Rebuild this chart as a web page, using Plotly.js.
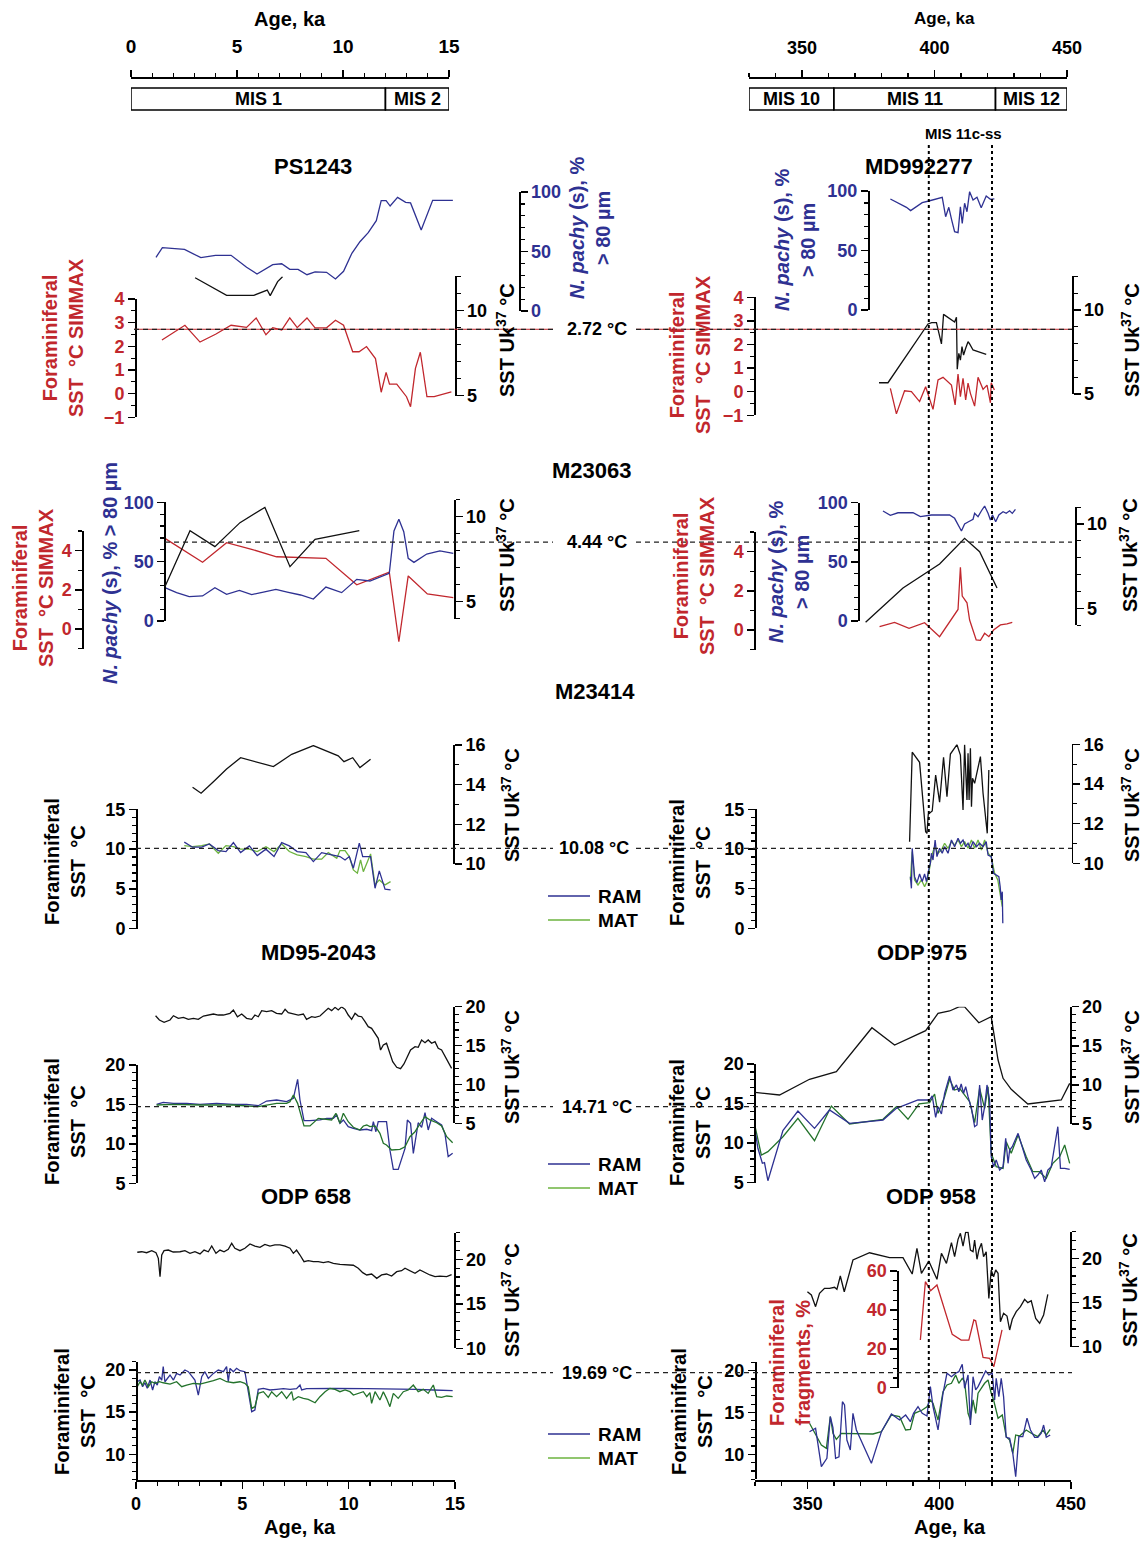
<!DOCTYPE html>
<html><head><meta charset="utf-8">
<script src="https://cdn.plot.ly/plotly-3.0.1.min.js"></script>
<style>html,body{margin:0;padding:0;background:#fff}#chart{width:1148px;height:1542px}</style>
</head><body><div id="chart"></div>
<script>
// ---------------- DATA ----------------
// PS1243 (0-15 ka)
const ps1243PachyAge = [0.94,1.24,2.28,3.05,3.74,4.47,5.2,5.69,6.43,6.85,7.23,7.62,8.04,8.42,8.96,9.38,9.76,10.15,10.53,10.92,11.3,11.53,11.76,11.95,12.3,12.68,12.91,13.41,13.95,14.9];
const ps1243Pachy = [45.1,53.2,51.8,44.8,46.8,46.8,36.7,31.1,38.9,39.7,35,35,30.5,32.8,32.5,26.9,33.4,48.5,58.2,65.8,75.9,92.7,92.7,88.2,95.5,91.3,90.8,68.1,93,93];
const ps1243UkAge = [2.78,4.26,5.54,6.17,6.31,6.66,6.89];
const ps1243Uk = [11.91,10.88,10.88,11.19,10.86,11.68,11.97];
const ps1243SimAge = [1.22,2.3,3.01,3.74,4.47,5.2,5.65,6.11,6.43,6.85,7.23,7.58,8.04,8.42,8.96,9.38,9.76,10.19,10.49,10.84,11.26,11.53,11.76,11.92,12.26,12.72,12.91,13.14,13.37,13.68,14.02,14.83];
const ps1243Sim = [2.27,2.89,2.18,2.51,2.89,2.8,3.2,2.49,2.79,2.69,3.2,2.79,3.2,2.78,2.78,3.1,2.89,1.77,1.77,1.99,1.48,0.06,0.9,0.4,0.4,-0.13,-0.55,1.07,1.75,-0.13,-0.13,0.07];
// MD992277 (MIS 11)
const md2277PachyAge = [381.4,387.5,389.1,393.5,396,398.9,401.1,402.4,403.6,404.7,405.8,407.1,408,408.7,409.6,410.5,411.5,412.8,414.3,415.9,417.8,419.4,420.9];
const md2277Pachy = [93.3,86.3,83.5,90.2,91.6,93.3,94.7,78.4,86.3,75.6,65.8,65,86.8,72.8,89.7,82.6,99.4,92.4,94.7,86,95.8,93,93.3];
const md2277UkAge = [377.1,380.5,395.7,397.1,398.9,400.8,401.6,404.6,405.8,406.5,406.8,407.4,408,408.6,409.2,410,410.9,411.5,412.8,414.7,417.8];
const md2277Uk = [5.67,5.67,9.17,9.25,9.25,7.98,9.74,9.45,9.29,9.57,6.47,7.42,7.02,7.82,7.32,7.72,8.11,7.98,7.62,7.52,7.36];
const md2277SimAge = [381.4,383.7,386.8,389.4,392.5,394.8,397.6,399.5,401.4,404.6,406,407.1,408,409,410,410.9,411.8,413.4,414.7,416.6,418.1,419.4,419.7,420.9];
const md2277Sim = [0.14,-0.94,0.04,0,-0.42,0.21,-0.75,0.5,0.61,0.28,-0.56,0.75,-0.21,0.57,-0.35,0.36,-0.07,-0.61,0.61,0.1,0.28,-0.47,0.38,0.07];
// M23063 Holocene
const m23063PachyAgeA = [1.36,1.91,2.5,3.13,3.71,4.26,4.86,5.44,5.99,6.58,7.11,7.74,8.34,8.93,9.67,10.38,11,11.91,12.13,12.36,12.59,12.8,13.07,13.67,14.29,14.92];
const m23063PachyA = [28.1,23.9,20.5,21.1,28.1,22.5,25.8,22.2,24.4,26.7,24.4,21.9,18.5,28.6,23.9,35.1,33.7,40.2,75.8,85.7,75.2,52.8,49.4,56.4,59,57];
const m23063UkAgeA = [1.36,2.54,3.71,4.89,6.06,7.24,8.42,10.5];
const m23063UkA = [5.88,9.18,8.24,9.65,10.55,7.06,8.67,9.18];
const m23063SimAgeA = [1.36,3.13,4.26,5.44,6.61,7.71,8.93,10.38,11.91,12.36,12.8,13.7,14.92];
const m23063SimA = [4.63,3.41,4.41,4.07,3.69,3.64,3.61,2.26,2.9,-0.65,2.71,1.79,1.6];
// M23063 MIS 11
const m23063PachyAgeB = [378.6,381.4,384.3,390,392.8,397,403.9,405.8,408.4,409.6,410.9,412.8,413.4,414.7,416,417.2,418.5,419.4,420.2,421.4,422.6,424.2,425.4,426.7,427.7,428.9];
const m23063PachyB = [93,89.3,91.5,91.5,88.2,89.6,89.6,86.8,76.1,82,83.7,86,91,88.2,93.2,97.2,91,85.4,89.6,83.9,89.6,92.4,91,93.2,91,94.4];
const m23063UkAgeB = [372,386.2,400.1,409.6,415.3,421.9];
const m23063UkB = [4.18,6.2,7.63,9.15,8.36,6.2];
const m23063SimAgeB = [377.3,383,388.5,394.4,400.1,407.1,408,408.7,410.5,411.5,414,415.6,417.2,418.8,420.6,423.2,425.7,427.7];
const m23063SimB = [0.17,0.39,0.09,0.37,-0.34,1.05,3.2,1.73,1.39,0.51,-0.51,-0.53,-0.17,-0.34,0,0.26,0.31,0.39];
// M23414 Holocene
const m23414UkAgeA = [2.66,3.06,3.64,4.26,4.92,5.83,6.46,7.32,8.34,9.51,9.78,10.19,10.53,11.03];
const m23414UkA = [13.87,13.57,14.15,14.79,15.36,15.08,14.91,15.53,15.97,15.45,15.16,15.36,14.86,15.28];
const m23414RamAgeA = [2.27,2.66,3.09,3.45,3.87,4.23,4.58,4.92,5.33,5.7,6.11,6.49,6.85,7.21,7.58,7.99,8.34,8.73,9.04,9.44,9.59,9.83,10.03,10.22,10.5,10.66,10.85,11.03,11.24,11.44,11.71,11.97];
const m23414RamA = [10.87,10.24,10.24,10.65,9.81,9.69,10.82,9.56,10.4,9.18,9.99,9.06,10.82,10.4,9.69,9.56,8.43,9.56,9.36,9.18,9.06,8.64,9.06,7.6,10.74,9.06,9.06,9.06,5.08,7.26,4.96,4.87];
const m23414MatAgeA = [2.27,2.66,3.09,3.45,3.87,4.23,4.58,4.92,5.33,5.7,6.11,6.49,6.85,7.21,7.58,7.99,8.34,8.73,9.04,9.44,9.59,9.83,10.03,10.22,10.41,10.56,10.69,11.03,11.24,11.44,11.71,11.97];
const m23414MatA = [10.44,10.31,10.44,10.65,9.48,10.44,10.31,9.99,9.99,9.69,10.31,9.69,10.65,9.69,9.27,9.06,8.73,8.73,9.56,8.86,9.81,9.81,9.06,7.38,6.97,8.64,7.17,9.4,5.5,6.13,5.5,5.91];
// M23414 MIS 11
const m23414UkAgeB = [388.7,389.7,392.5,394.8,395.3,395.8,397.3,398.6,400.1,401.6,402.9,404.2,406.7,408,409,409.6,410.5,410.9,411.3,411.8,412.2,412.6,413.4,415.6,416.6,418.2,418.8];
const m23414UkB = [11.09,15.6,15.09,11.59,11.51,12.47,12.64,14.45,13.08,15.35,13.36,15.51,15.98,15.46,12.69,15.97,13.19,15.55,13.19,15.8,12.85,14.29,14.03,15.38,13.53,11.51,14.7];
const m23414RamAgeB = [389,389.4,389.7,390.6,391.5,392.5,393.5,394.4,395.1,395.6,396.1,396.6,397,397.6,398.4,399.1,400.1,401.1,402,403.3,404.6,405.8,407.1,408,409,410,410.9,411.8,412.8,414.1,415.3,416.6,417.8,418.5,419.7,420.6,421.6,422.6,423.1,423.5,423.9,424.1];
const m23414RamB = [6.51,5.04,10.09,6.51,5.75,6.85,5.88,6.85,5.88,6.93,7.57,8.2,9.46,8.61,11.13,9.03,10.09,9.46,10.29,9.46,11.13,10.29,11.35,10.72,11.13,10.29,10.72,10.09,10.92,10.29,10.72,10.29,10.92,9.24,9.03,6.93,6.72,6.51,5.25,3.57,4.62,0.63];
const m23414MatAgeB = [389,389.7,390.6,391.9,393.2,394.4,395.3,396.1,397,398.2,399.5,400.8,402,403.3,404.6,405.8,407.1,408.4,409.6,410.9,412.2,413.4,414.7,416,417.2,418.5,419.7,421,422.2,423.1,423.9];
const m23414MatB = [6.09,9.66,6.09,5.46,6.09,5.25,5.88,7.14,9.03,10.29,9.46,9.87,10.72,10.09,10.92,10.5,11.13,10.29,10.92,10.09,11.13,10.09,11.13,9.87,11.13,9.46,9.03,6.93,6.09,4.41,2.72];
// MD95-2043
const md2043UkAge = [0.92,1.1,1.32,1.6,1.76,1.99,2.23,2.46,2.7,2.93,3.17,3.4,3.64,3.87,4.11,4.42,4.58,4.77,4.97,5.2,5.44,5.59,5.75,5.91,6.14,6.38,6.61,6.85,7.01,7.16,7.4,7.63,7.87,8.02,8.26,8.42,8.65,8.89,9.04,9.2,9.36,9.51,9.67,9.83,9.98,10.14,10.3,10.45,10.61,10.77,10.92,11.08,11.24,11.39,11.5,11.63,11.78,11.94,12.07,12.26,12.44,12.6,12.76,12.91,13.12,13.27,13.43,13.59,13.74,13.9,14.06,14.21,14.37,14.61,14.84];
const md2043Uk = [18.84,18.29,17.99,18.29,18.84,18.5,18.63,18.37,18.5,18.37,18.8,18.93,19.06,18.93,18.93,19.15,19.58,18.71,19.06,18.5,18.37,18.93,18.71,19.49,19.36,19.49,19.15,19.06,19.66,19.23,19.06,18.93,19.06,18.37,18.71,18.63,18.8,19.36,19.79,19.49,19.92,19.58,19.98,19.66,18.93,18.37,19.15,18.8,18.71,18.07,17.43,17.22,16.58,15.93,14.43,15.07,15.29,14,12.93,12.2,12.02,12.63,13.57,14.43,14.85,14.77,15.72,15.37,15.72,15.29,15.5,14.65,14.43,13.14,12.07];
const md2043RamAge = [0.97,1.28,1.76,2.38,3.01,3.79,4.58,5.2,5.75,6.14,6.61,7.08,7.4,7.6,7.71,7.9,8.18,8.65,8.97,9.28,9.44,9.59,9.75,9.98,10.22,10.53,10.85,11.08,11.16,11.28,11.39,11.78,11.94,12.1,12.33,12.49,12.65,12.76,12.91,13.04,13.27,13.43,13.59,13.74,13.9,14.14,14.37,14.53,14.68,14.89];
const md2043Ram = [15.02,15.27,15.14,15.14,15.02,15.14,15.02,15.02,14.84,15.43,15.56,15.35,15.77,18.18,15.56,12.94,12.94,13.03,13.24,13.24,13.66,12.6,13.03,12.18,11.97,11.76,11.85,11.67,12.81,11.54,12.81,12.81,9.22,6.77,6.77,8.17,9.43,13.03,12.6,8.8,12.68,12.1,13.95,11.76,13.24,12.81,12.39,11.25,8.38,8.8];
const md2043MatAge = [0.97,1.76,3.01,4.58,5.75,6.14,6.61,7.08,7.24,7.4,7.6,7.9,8.18,8.57,8.89,9.2,9.4,9.59,9.75,9.98,10.22,10.53,10.69,10.85,11,11.24,11.47,11.63,11.78,12.02,12.41,12.65,12.88,13.12,13.35,13.59,13.82,14.14,14.37,14.61,14.89];
const md2043Mat = [14.93,15.02,14.93,14.93,14.71,14.93,15.14,15.14,15.35,16.2,15.14,12.27,12.27,13.24,13.11,13.03,13.88,12.6,13.88,12.81,12.1,11.76,12.27,12.39,12.18,12.27,11.34,10.07,9.86,9.22,9.31,9.64,10.91,11.54,12.52,13.45,13.03,12.68,12.27,10.91,10.15];
// ODP 975
const odp975UkAge = [330,339.3,350.7,360.9,374.4,383,394.8,399.5,403.9,407.4,409.6,415,419.7,422.3,424.2,427.3,433.6,446.3,449.5];
const odp975Uk = [9.05,8.71,10.72,11.69,17.31,15.1,16.93,19.15,19.45,19.98,19.98,17.95,18.72,13.18,10.84,9.44,7.56,8.07,10.2];
const odp975RamAge = [330,331.1,332.8,333.6,334.9,340.6,346.3,352.6,358.3,365.9,378.6,383.7,391.9,396.3,397.3,398.6,399.5,400.8,402,403.9,405.2,406.5,407.4,408.3,409.2,410,410.9,412.2,413.4,414.3,415.3,416.3,417.2,418.1,419.1,419.7,420.6,421.6,422.9,424.2,425.2,426.1,426.7,427.7,429.9,431.1,433,434.9,436.2,437.4,438.7,440,441.2,442.5,443.8,445,446,447.6,449.5];
const odp975Ram = [11.75,9.35,7.45,7.53,5.25,11.58,14.06,11.87,14.19,12.5,12.92,14.4,15.45,15.45,15.96,13.26,14.61,13.68,16.3,18.48,16.71,17.35,16.5,17.47,16.3,17.13,15.87,14.4,12.08,12.29,17.35,12.92,14.61,17.35,15.45,8.29,7.02,7.87,6.6,7.02,10.61,7.45,9.13,9.55,11.24,9.97,7.87,6.6,5.55,5.97,6.6,5.1,6.6,7.02,9.55,12.08,6.81,6.81,6.68];
const odp975MatAge = [330,332.4,334.9,340.6,346.3,352.6,359,365.9,378.6,383.7,388.1,392.3,396.3,398.2,399.5,402,403.9,405.8,407.7,409.6,411.5,413.4,415.3,417.2,418.5,419.7,421.6,424.2,425.4,427.3,429.9,433,435.5,438,440.6,443.1,445.7,447.6,449.5];
const odp975Mat = [12.16,8.5,8.92,10.81,13.13,10.31,14.69,12.42,13.01,14.61,13.01,14.95,15.11,16.21,13.77,15.87,18.07,16.71,16.92,16.08,15.24,12.59,16.92,14.4,17.13,8.71,7.02,6.81,10.18,8.71,11.03,8.29,6.39,6.39,5.55,7.45,8.29,9.76,7.45];
// ODP 658
const odp658UkAge = [0.06,0.27,0.5,0.74,0.94,1.05,1.13,1.21,1.32,1.52,1.75,2.07,2.3,2.54,2.77,3.01,3.2,3.4,3.56,3.76,3.95,4.14,4.34,4.5,4.65,4.89,5.12,5.36,5.59,5.83,6.06,6.3,6.53,6.77,7.01,7.24,7.4,7.55,7.71,7.9,8.1,8.34,8.57,8.81,9.04,9.28,9.59,9.91,10.22,10.45,10.66,10.85,11.08,11.32,11.55,11.78,12.02,12.26,12.49,12.65,12.88,13.12,13.35,13.59,13.82,14.06,14.29,14.61,14.84];
const odp658Uk = [20.79,20.85,20.74,20.97,20.74,20.11,18.05,20.48,20.97,21.04,20.82,20.85,20.97,20.67,20.85,20.6,21.04,20.85,21.49,20.67,21.04,20.85,21.12,21.8,21.24,20.97,21.24,21.72,21.49,21.35,21.68,21.49,21.61,21.61,21.49,21.24,20.67,21.04,20.48,19.73,19.85,19.73,19.73,19.62,19.73,19.55,19.44,19.36,19.33,18.99,18.5,18.24,18.35,17.86,18.24,18.35,18.12,18.61,18.72,18.99,18.72,18.42,18.8,18.5,18.24,18.05,18.12,18.05,18.27];
const odp658RamAge = [0.06,0.19,0.31,0.42,0.53,0.66,0.78,0.89,1,1.1,1.21,1.28,1.36,1.6,1.76,1.91,2.07,2.3,2.46,2.62,2.77,2.93,3.09,3.24,3.4,3.64,3.87,4.11,4.26,4.34,4.42,4.58,4.73,4.89,5.12,5.28,5.44,5.59,5.75,5.99,6.3,6.61,6.93,7.24,7.55,7.71,7.79,8.02,9.28,10.85,12.41,13.2,13.98,14.89];
const odp658Ram = [18.61,18.81,18.02,18.49,17.83,18.81,17.63,18.61,18.22,19.21,18.81,20.4,18.61,19.41,18.81,19.6,19.41,20,19.8,19.21,18.81,17.03,19.21,19.8,19.01,19.6,20,19.8,20.4,18.61,20.2,19.8,20.2,19.92,19.8,17.43,15.06,15.26,17.71,17.83,17.63,17.71,17.79,17.71,17.79,18.22,17.63,17.79,17.83,17.79,17.79,17.71,17.63,17.55];
const odp658MatAge = [0.06,0.19,0.31,0.42,0.58,0.74,0.89,1.1,1.28,1.6,1.91,2.15,2.38,2.7,3.01,3.32,3.64,3.95,4.26,4.58,4.89,5.12,5.28,5.44,5.59,5.75,5.99,6.22,6.38,6.61,6.85,7.08,7.32,7.4,7.63,7.87,8.1,8.42,8.65,8.89,9.12,9.36,9.59,9.83,10.06,10.22,10.45,10.69,10.85,11,11.08,11.24,11.47,11.63,11.78,11.94,12.1,12.33,12.57,12.8,13.04,13.27,13.51,13.74,13.98,14.14,14.37,14.61,14.89];
const odp658Mat = [18.02,18.61,18.22,18.81,18.02,18.61,18.42,18.61,18.49,18.34,18.61,18.02,18.22,18.42,18.34,18.49,18.73,19.01,18.61,18.49,18.61,18.42,18.02,15.45,15.65,17.23,17.43,16.76,17.43,16.84,17.43,16.64,17.43,16.44,16.84,16.64,16.52,16.12,16.84,17.43,17.83,17.71,17.43,17.63,17.43,17.03,17.23,17.43,16.84,17.31,16.05,17.43,16.44,17.43,16.64,15.65,17.23,16.64,17.43,17.63,18.22,17.43,17.71,17.23,18.22,16.84,16.76,16.92,16.84];
// ODP 958
const odp958UkAge = [349.9,351.4,353,354.5,356.4,358.3,360.2,361.1,362.4,363.9,367.2,373.5,381.1,386.2,389.7,391.5,393.2,396,399.1,400.8,402.7,404.6,405.8,407.1,408,409,410,410.9,411.8,412.8,413.4,414.3,415,416,416.8,417.8,418.8,419.7,420.6,421.4,422.3,423.2,424.4,425.7,426.7,427.7,429.2,430.8,432.4,433.6,434.9,436.6,438.1,439.6,441.2];
const odp958Uk = [16.22,15.85,14.53,16.04,16.6,16.6,16.72,16.49,18,16.22,19.81,20.63,20.07,20.07,18.22,21.13,18.3,19.69,17.62,20.57,19.43,21.77,20.18,22.15,22.83,21.39,22.95,22.95,20.94,20.75,22.07,19.89,20.94,21.7,20.18,20.75,15.47,18.68,17.92,18.68,18.3,12.83,13.78,13.47,11.89,13.1,13.96,14.53,15.36,14.98,15.2,13.21,12.65,13.59,15.93];
const odp958FragAge = [392.8,394.7,396.7,399.1,404.9,408.3,411.2,413.1,413.8,416.6,419.1,420.7,423.8];
const odp958Frag = [24.5,54.5,49.9,52.8,27.4,24.5,24.5,34.8,34.4,15.6,15.1,10.8,29.7];
const odp958RamAge = [350.7,353,355.2,357.3,358.6,359.6,360.6,361.9,363.2,364,364.9,366.2,367.2,368.5,374.2,378,381.8,384.9,387.2,389,390.2,391.9,393.5,395.3,396.6,397.6,399.5,401.4,402.9,404.6,406.2,407.4,408.7,409.6,410.9,411.8,412.8,413.8,414.7,416,417.6,418.8,420.1,421,421.6,422.6,423.5,424.4,425.4,426.7,427.9,429,430.2,431.7,433.3,434.6,436.2,437.4,438.7,439.6,440.6,442.1];
const odp958Ram = [12.7,13.11,8.52,9.52,14.5,13.18,9.52,9.71,16.29,15.9,11.71,10.51,14.9,12.91,8.92,12.7,14.82,14.1,14.7,13.9,14.9,15.69,14.9,14.58,18.09,15.69,12.91,17.3,19.69,19.28,19.69,19.88,20.77,17.89,19.49,13.5,19.28,17.69,18.09,18.97,19.96,19.49,19.69,16.5,19.09,16.89,19.09,16.89,12.03,11.91,10.12,7.32,12.11,12.11,14.31,12.91,12.03,12.03,12.51,13.5,12.03,12.31];
const odp958MatAge = [350.7,353.3,355.2,357.1,358.6,359.6,360.9,362.8,364.9,367.2,369.7,374.8,378,381.8,384.9,387.2,389,390.6,393.5,395.3,396.6,397.6,399.5,401.4,402.9,404.6,406.2,407.4,408.7,409.6,410.9,411.8,412.8,413.8,414.7,416,417.2,418.5,419.7,420.6,422.3,423.9,425.4,426.7,427.9,429,430.5,433,434.9,437.4,439.3,440.6,442.1];
const odp958Mat = [13.71,12.11,11.11,10.72,14.5,12.51,11.79,12.51,12.51,12.51,12.51,12.43,12.7,14.7,14.5,12.91,12.99,14.9,15.3,15.69,16.5,16.1,14.1,17.49,18.29,18.49,19.49,18.49,19.09,18.68,14.9,14.1,16.5,14.9,17.3,18.01,18.49,18.89,17.3,16.5,14.31,14.7,12.11,11.71,10.12,12.31,12.19,12.91,12.51,12.11,12.91,12.31,12.99];
// Reference (modern) SST values, stage boundaries
const refValues = [2.72, 4.44, 10.08, 14.71, 19.69];
const refLabels = ['2.72 °C', '4.44 °C', '10.08 °C', '14.71 °C', '19.69 °C'];
const misLeftNames = ['MIS 1', 'MIS 2'];
const misLeftBounds = [0, 12, 15];
const misRightNames = ['MIS 10', 'MIS 11', 'MIS 12'];
const misRightBounds = [330, 362, 423, 450];
const substageBounds = [396, 420];
const substageName = 'MIS 11c-ss';

// ---------------- LAYOUT HELPERS ----------------
const W = 1148, H = 1542;
const PX = v => v / W;
const PY = v => 1 - v / H;
const FONT = 'Liberation Sans, Arial, Helvetica, sans-serif';
const RED = '#c1272d', BLUE = '#2e3192', GREEN_L = '#6cb33f', GREEN_D = '#23722b', BLACK = '#111111';

function yAx(top, bot, range, pos, side, dtick, minor, color) {
  return {
    domain: [PY(bot), PY(top)], range: range, anchor: 'free', position: PX(pos), side: side,
    showline: true, linecolor: '#000', linewidth: 1.5,
    ticks: 'outside', ticklen: 7, tickwidth: 1.5, tickcolor: '#000',
    tickmode: 'linear', tick0: 0, dtick: dtick,
    minor: {ticks: 'outside', dtick: minor, tick0: 0, ticklen: 4, tickwidth: 1.2, tickcolor: '#000', showgrid: false},
    showgrid: false, zeroline: false, fixedrange: true,
    tickfont: {family: FONT, size: 18, color: color || '#000', weight: 'bold'}
  };
}
function xAx(left, right, range, ypos, side, dtick, minor, size, standoff) {
  return {
    domain: [PX(left), PX(right)], range: range, anchor: 'free', position: PY(ypos), side: side,
    showline: true, linecolor: '#000', linewidth: 1.5,
    ticks: 'outside', ticklen: 7, tickwidth: 1.5, tickcolor: '#000',
    tickmode: 'linear', tick0: 0, dtick: dtick, ticklabelstandoff: standoff,
    minor: {ticks: 'outside', dtick: minor, tick0: 0, ticklen: 4, tickwidth: 1.2, tickcolor: '#000', showgrid: false},
    showgrid: false, zeroline: false, fixedrange: true,
    tickfont: {family: FONT, size: size, color: '#000', weight: 'bold'}
  };
}
function line(x, y, xa, ya, color, w) {
  return {type: 'scatter', mode: 'lines', x: x, y: y, xaxis: xa, yaxis: ya,
    line: {color: color, width: w || 1.3}, hoverinfo: 'skip', showlegend: false};
}
function txt(x, y, text, size, color, extra) {
  return Object.assign({xref: 'paper', yref: 'paper', x: PX(x), y: PY(y), text: text, showarrow: false,
    xanchor: 'center', yanchor: 'middle',
    font: {family: FONT, size: size, color: color || '#000', weight: 'bold'}}, extra || {});
}
function vtxt(x, y, text, size, color) { return txt(x, y, text, size, color, {textangle: -90}); }

// ---------------- TRACES ----------------
const traces = [
  line([], [], 'x3', 'y', '#000'), line([], [], 'x4', 'y4', '#000'),
  // PS1243
  line(ps1243PachyAge, ps1243Pachy, 'x', 'y3', BLUE),
  line(ps1243UkAge, ps1243Uk, 'x', 'y2', BLACK),
  line(ps1243SimAge, ps1243Sim, 'x', 'y', RED),
  // MD992277
  line(md2277PachyAge, md2277Pachy, 'x2', 'y6', BLUE),
  line(md2277UkAge, md2277Uk, 'x2', 'y5', BLACK),
  line(md2277SimAge, md2277Sim, 'x2', 'y4', RED),
  // M23063
  line(m23063PachyAgeA, m23063PachyA, 'x', 'y8', BLUE),
  line(m23063UkAgeA, m23063UkA, 'x', 'y9', BLACK),
  line(m23063SimAgeA, m23063SimA, 'x', 'y7', RED),
  line(m23063PachyAgeB, m23063PachyB, 'x2', 'y11', BLUE),
  line(m23063UkAgeB, m23063UkB, 'x2', 'y12', BLACK),
  line(m23063SimAgeB, m23063SimB, 'x2', 'y10', RED),
  // M23414
  line(m23414UkAgeA, m23414UkA, 'x', 'y14', BLACK),
  line(m23414MatAgeA, m23414MatA, 'x', 'y13', GREEN_L),
  line(m23414RamAgeA, m23414RamA, 'x', 'y13', BLUE),
  line(m23414UkAgeB, m23414UkB, 'x2', 'y16', BLACK),
  line(m23414MatAgeB, m23414MatB, 'x2', 'y15', GREEN_L),
  line(m23414RamAgeB, m23414RamB, 'x2', 'y15', BLUE),
  // MD95-2043
  line(md2043UkAge, md2043Uk, 'x', 'y18', BLACK),
  line(md2043RamAge, md2043Ram, 'x', 'y17', BLUE),
  line(md2043MatAge, md2043Mat, 'x', 'y17', GREEN_D),
  // ODP 975
  line(odp975UkAge, odp975Uk, 'x2', 'y20', BLACK),
  line(odp975MatAge, odp975Mat, 'x2', 'y19', GREEN_D),
  line(odp975RamAge, odp975Ram, 'x2', 'y19', BLUE),
  // ODP 658
  line(odp658UkAge, odp658Uk, 'x', 'y21', BLACK),
  line(odp658RamAge, odp658Ram, 'x', 'y22', BLUE),
  line(odp658MatAge, odp658Mat, 'x', 'y22', GREEN_D),
  // ODP 958
  line(odp958UkAge, odp958Uk, 'x2', 'y23', BLACK),
  line(odp958FragAge, odp958Frag, 'x2', 'y24', RED),
  line(odp958MatAge, odp958Mat, 'x2', 'y25', GREEN_D),
  line(odp958RamAge, odp958Ram, 'x2', 'y25', BLUE)
];

// ---------------- LAYOUT ----------------
const layout = {
  width: W, height: H, margin: {l: 0, r: 0, t: 0, b: 0, pad: 0},
  paper_bgcolor: '#fff', plot_bgcolor: 'rgba(0,0,0,0)', showlegend: false,
  font: {family: FONT, size: 18, color: '#000'},
  xaxis: xAx(136, 455, [0, 15], 1480, 'bottom', 5, 1, 18, 0),
  xaxis2: xAx(755, 1071, [330, 450], 1480, 'bottom', 50, 10, 18, 0),
  xaxis3: xAx(131, 449, [0, 15], 77, 'top', 5, 1, 19, 9),
  xaxis4: xAx(749, 1067, [330, 450], 77, 'top', 50, 10, 18, 9),
  yaxis: yAx(299, 417.3, [-1, 4], 135, 'left', 1, 0.5, RED),
  yaxis2: yAx(276.2, 395.7, [5, 12], 455, 'right', 5, 1),
  yaxis3: yAx(192, 311, [0, 100], 519, 'right', 50, 10, BLUE),
  yaxis4: yAx(297.3, 415.3, [-1, 4], 754, 'left', 1, 0.5, RED),
  yaxis5: yAx(276.4, 394, [5, 12], 1072, 'right', 5, 1),
  yaxis6: yAx(191, 310, [0, 100], 868, 'left', 50, 10, BLUE),
  yaxis7: yAx(531.1, 648.6, [-1, 5], 82.3, 'left', 2, 1, RED),
  yaxis8: yAx(502.3, 621, [0, 100], 164.3, 'left', 50, 10, BLUE),
  yaxis9: yAx(499.7, 618.7, [4, 11], 454, 'right', 5, 1),
  yaxis10: yAx(532, 649.6, [-1, 5], 754.3, 'left', 2, 1, RED),
  yaxis11: yAx(502.7, 621, [0, 100], 858.3, 'left', 50, 10, BLUE),
  yaxis12: yAx(507.1, 625.2, [4, 11], 1075, 'right', 5, 1),
  yaxis13: yAx(809.3, 928.7, [0, 15], 136, 'left', 5, 1),
  yaxis14: yAx(745, 864, [10, 16], 453.3, 'right', 2, 1),
  yaxis15: yAx(809.3, 928.3, [0, 15], 755, 'left', 5, 1),
  yaxis16: yAx(744.3, 863.3, [10, 16], 1071.7, 'right', 2, 1),
  yaxis17: yAx(1065, 1183.3, [5, 20], 136, 'left', 5, 1),
  yaxis18: yAx(1006.7, 1123.3, [5, 20], 453.3, 'right', 5, 1),
  yaxis19: yAx(1064, 1182.7, [5, 20], 754.3, 'left', 5, 1),
  yaxis20: yAx(1006.7, 1124, [5, 20], 1070, 'right', 5, 1),
  yaxis21: yAx(1232.6, 1348.3, [10, 23], 454, 'right', 5, 1),
  yaxis22: yAx(1361.6, 1479.6, [7, 21], 136, 'left', 5, 1),
  yaxis23: yAx(1231.8, 1346.7, [10, 23], 1070, 'right', 5, 1),
  yaxis24: yAx(1271, 1387.7, [0, 60], 897.3, 'left', 20, 5, RED),
  yaxis25: yAx(1362.3, 1479.4, [7, 21], 755, 'left', 5, 1),
  shapes: [],
  annotations: []
};

// MIS boxes
for (let i = 0; i < misLeftNames.length; i++) {
  layout.shapes.push({type: 'rect', xref: 'x3', yref: 'paper', x0: misLeftBounds[i], x1: misLeftBounds[i + 1],
    y0: PY(110), y1: PY(88), line: {color: '#000', width: 1.5}, fillcolor: 'rgba(0,0,0,0)'});
  layout.annotations.push({xref: 'x3', yref: 'paper', x: (misLeftBounds[i] + misLeftBounds[i + 1]) / 2, y: PY(99.5),
    text: misLeftNames[i], showarrow: false, xanchor: 'center', yanchor: 'middle',
    font: {family: FONT, size: 18, color: '#000', weight: 'bold'}});
}
for (let i = 0; i < misRightNames.length; i++) {
  layout.shapes.push({type: 'rect', xref: 'x4', yref: 'paper', x0: misRightBounds[i], x1: misRightBounds[i + 1],
    y0: PY(110), y1: PY(88), line: {color: '#000', width: 1.5}, fillcolor: 'rgba(0,0,0,0)'});
  layout.annotations.push({xref: 'x4', yref: 'paper', x: (misRightBounds[i] + misRightBounds[i + 1]) / 2, y: PY(99.5),
    text: misRightNames[i], showarrow: false, xanchor: 'center', yanchor: 'middle',
    font: {family: FONT, size: 18, color: '#000', weight: 'bold'}});
}
// substage dotted verticals
substageBounds.forEach(b => layout.shapes.push({type: 'line', xref: 'x2', yref: 'paper', x0: b, x1: b,
  y0: PY(1480), y1: PY(145), line: {color: '#000', width: 2, dash: '3px,3px'}}));
layout.annotations.push(txt(963, 133, substageName, 15));

// reference dashed lines
const refAxes = ['y', 'y7', 'y13', 'y17', 'y22'];
const refLeftStart = [134, 165, 136, 136, 136];
const refLabelX = [597, 597, 594, 597, 597];
refValues.forEach((v, i) => {
  if (i === 0) {
    layout.shapes.push({type: 'line', xref: 'paper', yref: refAxes[i], x0: PX(refLeftStart[i]), x1: PX(553), y0: v, y1: v, line: {color: RED, width: 1}});
    layout.shapes.push({type: 'line', xref: 'paper', yref: refAxes[i], x0: PX(636), x1: PX(1072), y0: v, y1: v, line: {color: RED, width: 1}});
  }
  layout.shapes.push({type: 'line', xref: 'paper', yref: refAxes[i], x0: PX(refLeftStart[i]), x1: PX(553), y0: v, y1: v, line: {color: '#222', width: 1.2, dash: '5px,4px'}});
  layout.shapes.push({type: 'line', xref: 'paper', yref: refAxes[i], x0: PX(636), x1: PX(1072), y0: v, y1: v, line: {color: '#222', width: 1.2, dash: '5px,4px'}});
  layout.annotations.push({xref: 'paper', yref: refAxes[i], x: PX(refLabelX[i]), y: v, text: refLabels[i], showarrow: false,
    xanchor: 'center', yanchor: 'middle', bgcolor: '#fff',
    font: {family: FONT, size: 18, color: '#000', weight: 'bold'}});
});

// legends
[[896, 920, GREEN_L], [1164, 1188, GREEN_L], [1434, 1458, GREEN_L]].forEach(r => {
  layout.shapes.push({type: 'line', xref: 'paper', yref: 'paper', x0: PX(548), x1: PX(590), y0: PY(r[0]), y1: PY(r[0]), line: {color: BLUE, width: 1.5}});
  layout.shapes.push({type: 'line', xref: 'paper', yref: 'paper', x0: PX(548), x1: PX(590), y0: PY(r[1]), y1: PY(r[1]), line: {color: r[2], width: 1.5}});
  layout.annotations.push(txt(596, r[0], 'RAM', 19, '#000', {xanchor: 'left'}));
  layout.annotations.push(txt(596, r[1], 'MAT', 19, '#000', {xanchor: 'left'}));
});

// titles and axis labels
const SIM = 'Foraminiferal<br>SST  °C SIMMAX';
const UK = 'SST Uk<sup>37</sup> °C';
const PACHY2 = '<i>N. pachy</i> (s), %<br>&gt; 80 µm';
const PACHY1 = '<i>N. pachy</i> (s), % &gt; 80 µm';
const FOR = 'Foraminiferal<br>SST  °C';
layout.annotations.push(
  txt(290, 19, 'Age, ka', 20), txt(944, 19, 'Age, ka', 17),
  txt(300, 1527, 'Age, ka', 20), txt(950, 1527, 'Age, ka', 20),
  txt(313, 166, 'PS1243', 22), txt(919, 166, 'MD992277', 22),
  txt(592, 470, 'M23063', 22), txt(595, 692, 'M23414', 22),
  txt(318, 952, 'MD95-2043', 22), txt(922, 952, 'ODP 975', 22),
  txt(306, 1196, 'ODP 658', 22), txt(931, 1196, 'ODP 958', 22),
  // row 1
  vtxt(63, 338, SIM, 20, RED), vtxt(505, 340, UK, 20), vtxt(590, 228, PACHY2, 20, BLUE),
  vtxt(690, 354, SIM, 20, RED), vtxt(795, 240, PACHY2, 20, BLUE), vtxt(1130, 340, UK, 20),
  // row 2
  vtxt(33, 588, SIM, 20, RED), vtxt(110, 573, PACHY1, 20, BLUE), vtxt(505, 555, UK, 20),
  vtxt(694, 576, SIM, 20, RED), vtxt(789, 572, PACHY2, 20, BLUE), vtxt(1128, 555, UK, 20),
  // row 3
  vtxt(65, 862, FOR, 20), vtxt(510, 805, UK, 20),
  vtxt(690, 862, FOR, 20), vtxt(1130, 805, UK, 20),
  // row 4
  vtxt(65, 1122, FOR, 20), vtxt(510, 1067, UK, 20),
  vtxt(690, 1122, FOR, 20), vtxt(1130, 1067, UK, 20),
  // row 5
  vtxt(510, 1300, UK, 20), vtxt(75, 1412, FOR, 20),
  vtxt(1128, 1290, UK, 20), vtxt(790, 1363, 'Foraminiferal<br>fragments, %', 20, RED), vtxt(692, 1412, FOR, 20)
);

Plotly.newPlot('chart', traces, layout, {staticPlot: true, displayModeBar: false});
</script></body></html>
